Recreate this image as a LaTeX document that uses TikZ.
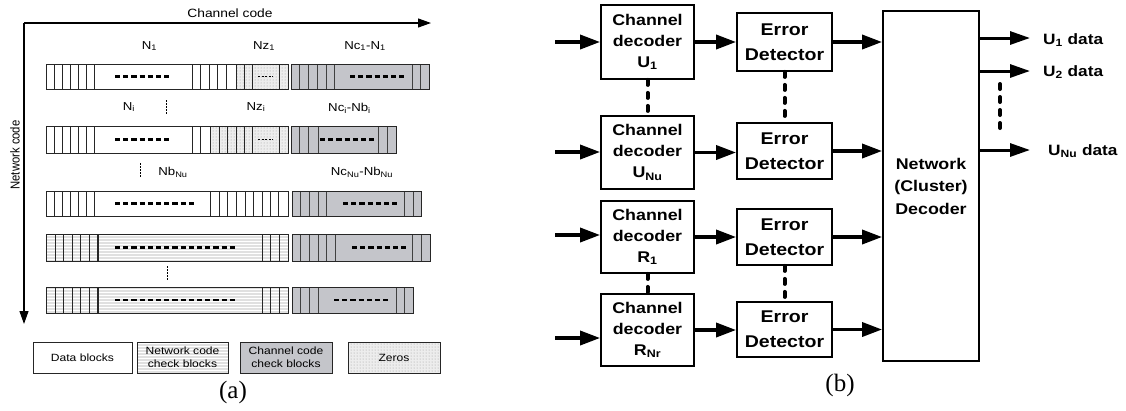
\documentclass[tikz,border=0pt]{standalone}
\usepackage{fontspec}
\setmainfont{Liberation Serif}
\newfontfamily\arialx[FakeStretch=1.15]{Liberation Sans}
\newfontfamily\arialv[FakeStretch=0.87]{Liberation Sans}
\usetikzlibrary{arrows.meta,patterns}
\definecolor{chgray}{RGB}{196,197,202}
\begin{document}
\begin{tikzpicture}[x=1pt,y=-1pt,
  axis/.style={line width=1.2pt,-{Triangle[length=13pt,width=9pt]}},
  cellline/.style={line width=0.8pt,black!85},
  darkline/.style={line width=1.2pt,black!85},
  chline/.style={line width=0.9pt,black!75},
  rowborder/.style={draw=black!85,line width=0.9pt},
  zerofill/.style={preaction={fill=black!7},pattern=dots,pattern color=black!40},
  netfill/.style={preaction={fill=black!12},pattern=horizontal lines,pattern color=white},
  bigdash/.style={line width=2.5pt,dash pattern=on 5.2pt off 3pt},
  smalldash/.style={line width=0.8pt,dash pattern=on 2pt off 1.5pt},
  tinydots/.style={line width=1pt,dash pattern=on 1.5pt off 1.5pt},
  lab/.style={font=\arialx\fontsize{11.5}{13}\selectfont,inner sep=0},
  legbox/.style={draw=black!85,line width=0.9pt,align=center,inner sep=0,minimum height=31pt,font=\arialx\fontsize{10.5}{13}\selectfont},
  blk/.style={draw,line width=1.8pt,inner sep=0,align=center,font=\arialx\bfseries\fontsize{15.5}{21}\selectfont},
  edblk/.style={blk,font=\arialx\bfseries\fontsize{17}{25}\selectfont},
  arr/.style={line width=3.5pt,-{Triangle[length=20pt,width=14pt]}},
  oarr/.style={line width=3pt,-{Triangle[length=20pt,width=13pt]}},
  linkdash/.style={line width=4pt,line cap=round,dash pattern=on 5pt off 8pt},
  outlab/.style={anchor=west,inner sep=0,font=\arialx\bfseries\fontsize{15}{18}\selectfont},
  caption/.style={font=\fontsize{25}{28}\selectfont,inner sep=0}
]
\useasboundingbox (0,0) rectangle (1126,410);

% ---------------- panel (a) ----------------
\coordinate (corner) at (24,23);
\coordinate (chend) at (431,23);
\coordinate (nwend) at (24,324);
\draw[axis] (corner) -- (chend);
\draw[axis] (corner) -- (nwend);
\node[inner sep=0,font=\arialx\fontsize{12}{14}\selectfont] (chlab) at (230,13) {Channel code};
\node[inner sep=0,rotate=90,font=\arialv\fontsize{13}{14}\selectfont] (nwlab) at (15,155) {Network code};

% row 1
\path[zerofill] (236,64) rectangle (288,89);
\draw[cellline] foreach \x in {54,62,70,78,86,94,192,200,209,217,226,236,244,252,279}{(\x,64)--(\x,89)};
\draw[rowborder] (46,64) rectangle (288,89);
\draw[bigdash] (115,76.5) -- +(54.4,0);
\draw[smalldash] (258,76.5) -- (273,76.5);
\fill[chgray] (291,64) rectangle (429,89);
\draw[chline] foreach \x in {299,308,317,326,334,412,420}{(\x,64)--(\x,89)};
\draw[rowborder] (291,64) rectangle (429,89);
\draw[bigdash] (350,76.5) -- +(54.4,0);

% row 2
\path[zerofill] (210,126) rectangle (288,153);
\draw[cellline] foreach \x in {54,62,70,78,86,94,192,200,210,219,227,236,244,252,279}{(\x,126)--(\x,153)};
\draw[rowborder] (46,126) rectangle (288,153);
\draw[bigdash] (115,139.5) -- +(54.4,0);
\draw[smalldash] (258,139.5) -- (273,139.5);
\fill[chgray] (291,126) rectangle (396,153);
\draw[chline] foreach \x in {299,308,318,378,387}{(\x,126)--(\x,153)};
\draw[rowborder] (291,126) rectangle (396,153);
\draw[bigdash] (320,139.5) -- +(54.4,0);

% row 3
\draw[cellline] foreach \x in {54,62,70,78,86,94,210,219,227.5,236,245,253,262,270,278}{(\x,191)--(\x,216)};
\draw[rowborder] (46,191) rectangle (288,216);
\draw[bigdash] (115,203.5) -- +(79,0);
\fill[chgray] (292,191) rectangle (421.5,216);
\draw[chline] foreach \x in {300.5,309,318,326,404,413}{(\x,191)--(\x,216)};
\draw[rowborder] (292,191) rectangle (421.5,216);
\draw[bigdash] (343,203.5) -- +(54.4,0);

% row 4
\path[netfill] (46,234) rectangle (288,261);
\draw[cellline] foreach \x in {55,63,72,80.5,89,262,270,279}{(\x,234)--(\x,261)};
\draw[darkline] (98,234) -- (98,261);
\draw[rowborder] (46,234) rectangle (288,261);
\draw[bigdash] (115,247.5) -- +(120,0);
\fill[chgray] (292,234) rectangle (430,261);
\draw[chline] foreach \x in {300.5,309,318,326.5,335,412.5,421}{(\x,234)--(\x,261)};
\draw[rowborder] (292,234) rectangle (430,261);
\draw[bigdash] (352,247.5) -- +(54.4,0);

% row 5
\path[netfill] (46,287) rectangle (288,313);
\draw[cellline] foreach \x in {55,63,72,80.5,89,262,270,279}{(\x,287)--(\x,313)};
\draw[darkline] (98,287) -- (98,313);
\draw[rowborder] (46,287) rectangle (288,313);
\draw[bigdash] (115,300) -- +(120,0);
\fill[chgray] (292,287) rectangle (413,313);
\draw[chline] foreach \x in {300.5,309,318,396,404.5}{(\x,287)--(\x,313)};
\draw[rowborder] (292,287) rectangle (413,313);
\draw[bigdash] (334,300) -- +(54.4,0);

% vertical dots
\draw[tinydots] (166.7,100) -- (166.7,114);
\draw[tinydots] (140,163) -- (140,177);
\draw[tinydots] (167,266) -- (167,280);

% labels (a)
\node[lab] (ln1) at (149.5,46) {N\textsubscript{1}};
\node[lab] (lnz1) at (264,46) {Nz\textsubscript{1}};
\node[lab] (lnc1) at (365,46) {Nc\textsubscript{1}-N\textsubscript{1}};
\node[lab] (lni) at (129,107) {N\textsubscript{i}};
\node[lab] (lnzi) at (256,107) {Nz\textsubscript{i}};
\node[lab] (lnci) at (349.5,108) {Nc\textsubscript{i}-Nb\textsubscript{i}};
\node[lab] (lnb) at (173,172) {Nb\textsubscript{Nu}};
\node[lab] (lncn) at (362,172) {Nc\textsubscript{Nu}-Nb\textsubscript{Nu}};

% legend
\node[legbox,fill=white,minimum width=99pt] (lg1) at (82.5,357.5) {Data blocks};
\node[legbox,netfill,minimum width=91pt] (lg2) at (182.5,357.5) {Network code\\check blocks};
\node[legbox,fill=chgray,minimum width=92pt] (lg3) at (286,357.5) {Channel code\\check blocks};
\node[legbox,zerofill,minimum width=92pt] (lg4) at (394,357.5) {Zeros};

\node[caption] (capa) at (233,392) {(a)};

% ---------------- panel (b) ----------------
\node[blk,minimum width=93pt,minimum height=74pt] (cd1) at (647.5,42) {Channel\\decoder\\U\textsubscript{1}};
\node[blk,minimum width=93pt,minimum height=73pt] (cd2) at (647.5,152.5) {Channel\\decoder\\U\textsubscript{Nu}};
\node[blk,minimum width=93pt,minimum height=72pt] (cd3) at (647.5,237) {Channel\\decoder\\R\textsubscript{1}};
\node[blk,minimum width=93pt,minimum height=72pt] (cd4) at (647.5,330) {Channel\\decoder\\R\textsubscript{Nr}};

\node[edblk,minimum width=95pt,minimum height=58pt] (ed1) at (784.5,42) {Error\\Detector};
\node[edblk,minimum width=95pt,minimum height=56pt] (ed2) at (784.5,151) {Error\\Detector};
\node[edblk,minimum width=95pt,minimum height=56pt] (ed3) at (784.5,237) {Error\\Detector};
\node[edblk,minimum width=95pt,minimum height=55pt] (ed4) at (784.5,329.5) {Error\\Detector};

\node[blk,fill=white,font=\arialx\bfseries\fontsize{15.5}{22.5}\selectfont,minimum width=96pt,minimum height=350pt] (nw) at (931,186) {Network\\(Cluster)\\Decoder};

\coordinate (in1) at (555,42);
\coordinate (in2) at (555,152);
\coordinate (in3) at (555,235);
\coordinate (in4) at (555,338);
\draw[arr] (in1) -- (in1 -| cd1.west);
\draw[arr] (in2) -- (in2 -| cd2.west);
\draw[arr] (in3) -- (in3 -| cd3.west);
\draw[arr] (in4) -- (in4 -| cd4.west);

\draw[arr] (cd1.east) -- (ed1.west);
\draw[arr] (cd2.east) -- (cd2.east -| ed2.west);
\draw[arr] (cd3.east) -- (ed3.west);
\draw[arr] (cd4.east) -- (cd4.east -| ed4.west);

\draw[arr] (ed1.east) -- (ed1.east -| nw.west);
\draw[arr] (ed2.east) -- (ed2.east -| nw.west);
\draw[arr] (ed3.east) -- (ed3.east -| nw.west);
\draw[arr] (ed4.east) -- (ed4.east -| nw.west);

\draw[linkdash] (cd1.south) -- (cd2.north);
\draw[linkdash] (ed1.south) -- (ed2.north);
\draw[linkdash] (cd3.south) -- (cd4.north);
\draw[linkdash] (ed3.south) -- (ed4.north);

\coordinate (o1) at (1030,38);
\coordinate (o2) at (1030,71);
\coordinate (o3) at (1030,150);
\node[outlab] (u1) at (1043,40) {U\textsubscript{1} data};
\node[outlab] (u2) at (1043,72) {U\textsubscript{2} data};
\node[outlab] (u3) at (1048,151) {U\textsubscript{Nu} data};
\draw[oarr] (nw.east |- o1) -- (o1);
\draw[oarr] (nw.east |- o2) -- (o2);
\draw[oarr] (nw.east |- o3) -- (o3);
\coordinate (d1) at (1000,84);
\coordinate (d2) at (1000,131);
\draw[linkdash] (d1) -- (d2);

\node[caption] (capb) at (840,385) {(b)};
\end{tikzpicture}
\end{document}
